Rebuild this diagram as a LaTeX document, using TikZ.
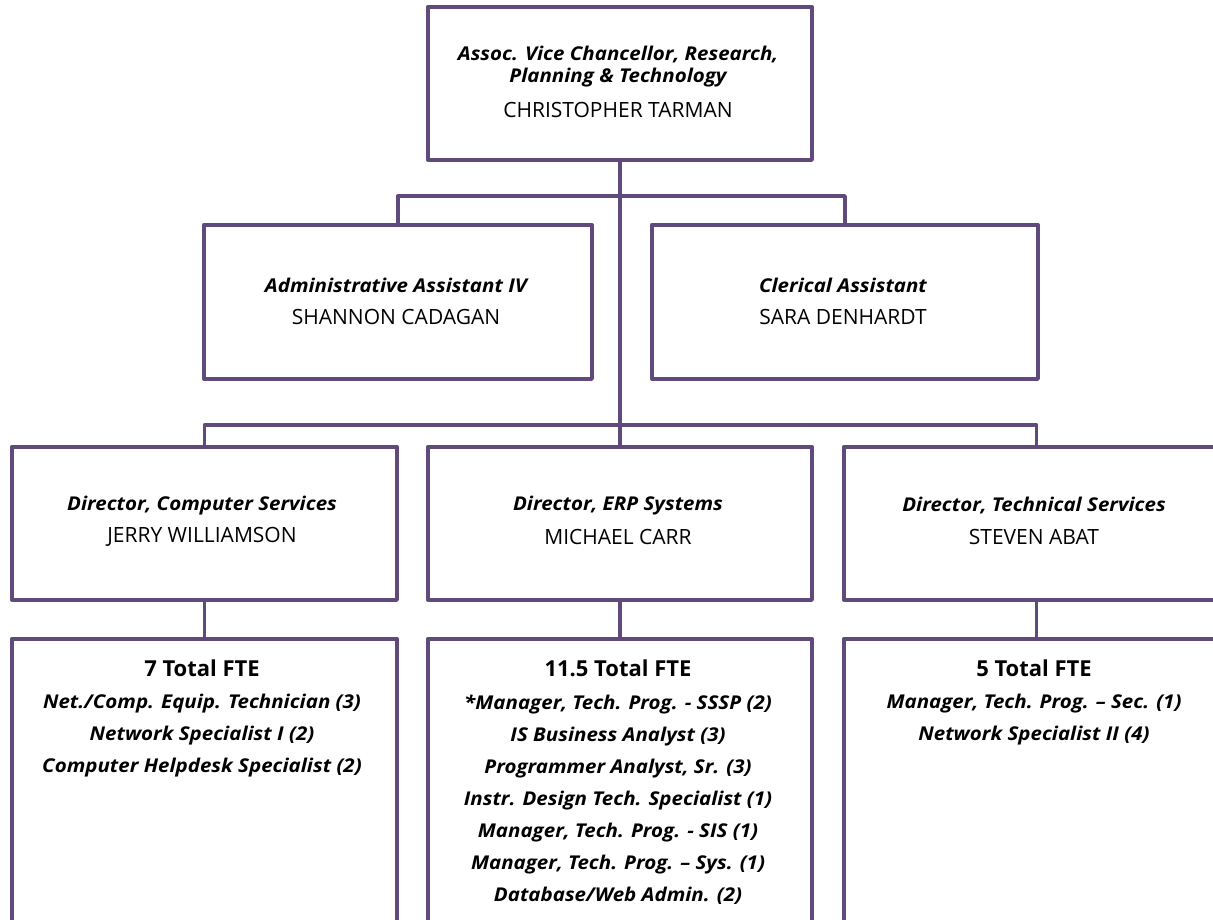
\documentclass[tikz,border=0pt]{standalone}
\usepackage{fontspec}
\setmainfont{Open Sans}[BoldItalicFeatures={FakeStretch=1.08}]
\definecolor{orgpurple}{RGB}{96,74,123}
\begin{document}
\begin{tikzpicture}[x=1pt,y=-1pt,
  box/.style={draw=orgpurple,line width=3.8pt,line join=round,fill=white,inner sep=0pt,anchor=north west},
  conn/.style={draw=orgpurple,line width=3.8pt,line join=round},
  ttl/.style={font=\fontsize{19}{22}\selectfont\bfseries\itshape,align=center,inner sep=0pt},
  nm/.style={font=\fontsize{21}{24}\selectfont,inner sep=0pt},
  fte/.style={font=\fontsize{22}{24}\selectfont\bfseries,inner sep=0pt},
  itm/.style={font=\fontsize{19}{32}\selectfont\bfseries\itshape,align=center,inner sep=0pt}
]
\useasboundingbox[fill=white] (0,0) rectangle (1213,920);
% boxes
\node[box,minimum width=384pt,minimum height=153pt] (top) at (426,5) {};
\node[box,minimum width=388pt,minimum height=154pt] (adm) at (202,223) {};
\node[box,minimum width=386pt,minimum height=154pt] (cler) at (650,223) {};
\node[box,minimum width=385pt,minimum height=153pt] (dl) at (10,445) {};
\node[box,minimum width=384pt,minimum height=153pt] (dm) at (426,445) {};
\node[box,minimum width=385pt,minimum height=153pt] (dr) at (842,445) {};
\node[box,minimum width=385pt,minimum height=330pt] (sl) at (10,637) {};
\node[box,minimum width=384pt,minimum height=330pt] (sm) at (426,637) {};
\node[box,minimum width=385pt,minimum height=330pt] (sr) at (842,637) {};
% junctions
\coordinate (j1) at (top.south |- {(0,196)});
\coordinate (j2) at (top.south |- {(0,425)});
% connectors
\draw[conn] (top.south) -- (j1);
\draw[conn] (j1) -| (adm.north);
\draw[conn] (j1) -| (cler.north);
\draw[conn] (j1) -- (dm.north);
\draw[conn] (j2) -| (dl.north);
\draw[conn] (j2) -| (dr.north);
\draw[conn] (dl.south) -- (sl.north);
\draw[conn] (dm.south) -- (sm.north);
\draw[conn] (dr.south) -- (sr.north);
% texts
\node[ttl] (t1) at (618,67) {Assoc. Vice Chancellor, Research,\\Planning \& Technology};
\node[nm] (t1n) at (618,110) {CHRISTOPHER TARMAN};
\node[ttl] (t2) at (396,285) {Administrative Assistant IV};
\node[nm] (t2n) at (396,317) {SHANNON CADAGAN};
\node[ttl] (t3) at (843,285) {Clerical Assistant};
\node[nm] (t3n) at (843,317) {SARA DENHARDT};
\node[ttl] (t4) at (202,506) {Director, Computer Services};
\node[nm] (t4n) at (202,537) {JERRY WILLIAMSON};
\node[ttl] (t5) at (618,506) {Director, ERP Systems};
\node[nm] (t5n) at (618,537) {MICHAEL CARR};
\node[ttl] (t6) at (1034,506) {Director, Technical Services};
\node[nm] (t6n) at (1034,537) {STEVEN ABAT};
\node[fte] (f1) at (202,668) {7 Total FTE};
\node[fte] (f2) at (618,668) {11.5 Total FTE};
\node[fte] (f3) at (1034,668) {5 Total FTE};
\node[itm] (l1) at (202,736) {Net./Comp. Equip. Technician (3)\\Network Specialist I (2)\\Computer Helpdesk Specialist (2)};
\node[itm] (l2) at (618,800) {*Manager, Tech. Prog. - SSSP (2)\\IS Business Analyst (3)\\Programmer Analyst, Sr. (3)\\Instr. Design Tech. Specialist (1)\\Manager, Tech. Prog. - SIS (1)\\Manager, Tech. Prog. – Sys. (1)\\Database/Web Admin. (2)};
\node[itm] (l3) at (1034,720) {Manager, Tech. Prog. – Sec. (1)\\Network Specialist II (4)};
\end{tikzpicture}
\end{document}
